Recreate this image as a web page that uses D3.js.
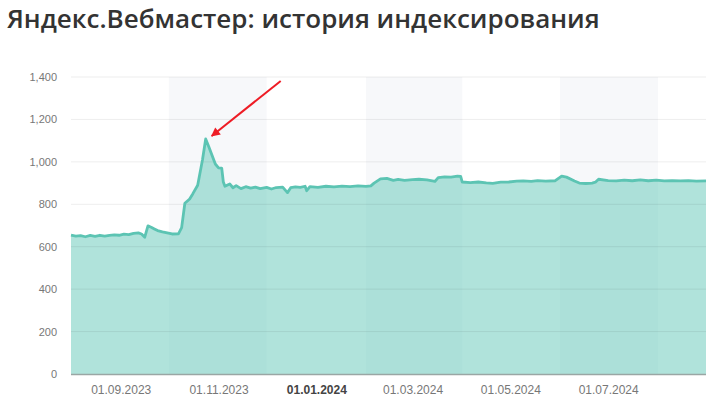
<!DOCTYPE html>
<html><head><meta charset="utf-8">
<script src="https://cdn.jsdelivr.net/npm/d3@7/dist/d3.min.js"></script>
<style>
html,body{margin:0;padding:0;background:#fff;}
svg{display:block;}
</style></head>
<body>
<svg id="c" width="712" height="402"></svg>
<script>
const title = "Яндекс.Вебмастер: история индексирования";
const dates = [
"2023-08-01","2023-08-04","2023-08-07","2023-08-10","2023-08-13","2023-08-16","2023-08-19","2023-08-22","2023-08-25","2023-08-28",
"2023-08-31","2023-09-03","2023-09-06","2023-09-09","2023-09-12","2023-09-14","2023-09-16","2023-09-18","2023-09-20","2023-09-22",
"2023-09-24","2023-09-27","2023-09-30","2023-10-03","2023-10-07","2023-10-09","2023-10-11","2023-10-14","2023-10-16","2023-10-19",
"2023-10-22","2023-10-24","2023-10-26","2023-10-28","2023-10-30","2023-11-01","2023-11-03","2023-11-04","2023-11-05","2023-11-08",
"2023-11-10","2023-11-12","2023-11-15","2023-11-18","2023-11-21","2023-11-24","2023-11-27","2023-12-01","2023-12-04","2023-12-07",
"2023-12-11","2023-12-14","2023-12-16","2023-12-19","2023-12-22","2023-12-25","2023-12-26","2023-12-28","2024-01-02","2024-01-07",
"2024-01-12","2024-01-17","2024-01-22","2024-01-27","2024-02-01","2024-02-04","2024-02-06","2024-02-10","2024-02-14","2024-02-18",
"2024-02-21","2024-02-25","2024-03-01","2024-03-05","2024-03-10","2024-03-15","2024-03-17","2024-03-21","2024-03-25","2024-03-29",
"2024-03-31","2024-04-01","2024-04-06","2024-04-11","2024-04-16","2024-04-20","2024-04-25","2024-04-30","2024-05-05","2024-05-09",
"2024-05-14","2024-05-18","2024-05-23","2024-05-29","2024-06-02","2024-06-05","2024-06-10","2024-06-13","2024-06-17","2024-06-21",
"2024-06-23","2024-06-25","2024-07-01","2024-07-06","2024-07-11","2024-07-16","2024-07-21","2024-07-26","2024-07-31","2024-08-05",
"2024-08-10","2024-08-15","2024-08-20","2024-08-25","2024-08-31"
];
const values = [
655,650,652,647,653,649,654,650,653,656,
654,659,657,663,665,660,645,698,692,684,
676,670,665,660,661,690,805,825,850,890,
1010,1108,1070,1030,990,972,970,905,885,896,
878,888,874,883,876,881,874,880,872,879,
881,855,878,882,880,885,864,883,880,885,
882,886,883,887,884,887,900,920,922,913,
917,913,916,918,915,908,926,929,928,933,
932,905,902,905,901,899,904,905,909,910,
908,912,909,911,933,928,910,900,898,900,
904,918,912,910,914,911,915,911,914,910,
912,910,912,909,910
];
const yTicks = [0,200,400,600,800,1000,1200,1400];
const xTickDates = ["2023-09-01","2023-11-01","2024-01-01","2024-03-01","2024-05-01","2024-07-01"];
const bandStarts = ["2023-10-01","2024-02-01","2024-06-01"];
const bandEnds = ["2023-12-01","2024-04-01","2024-08-01"];
const domainDates = ["2023-08-01","2024-08-31"];

const parse = d3.utcParse("%Y-%m-%d");
const fmt = d3.utcFormat("%d.%m.%Y");
const data = dates.map((d,i)=>({date:parse(d), value:values[i]}));

const svg = d3.select("#c");
const m = {left:71, right:6, top:77, bottom:28};
const W = 712, H = 402;
const x = d3.scaleUtc().domain(domainDates.map(parse)).range([m.left, W-m.right]);
const y = d3.scaleLinear().domain([0,1400]).range([H-m.bottom, m.top]);

svg.append("text").attr("x",7).attr("y",28)
  .attr("font-family","'Open Sans', sans-serif").attr("font-weight",600)
  .attr("font-size",26).attr("fill","#333").text(title);

// bands
svg.append("g").selectAll("rect").data(bandStarts).join("rect")
  .attr("x",(d)=>x(parse(d))).attr("width",(d,i)=>x(parse(bandEnds[i]))-x(parse(d)))
  .attr("y",y(1400)).attr("height",y(0)-y(1400)).attr("fill","#f7f8fa");

// area
const area = d3.area().x(d=>x(d.date)).y0(y(0)).y1(d=>y(d.value));
svg.append("path").datum(data).attr("d",area).attr("fill","#62c8b8").attr("fill-opacity",0.5);

// grid
svg.append("g").selectAll("line").data(yTicks.filter(t=>t>0)).join("line")
  .attr("x1",m.left).attr("x2",W-m.right).attr("y1",d=>y(d)).attr("y2",d=>y(d))
  .attr("stroke","#000").attr("stroke-opacity",0.07).attr("stroke-width",1);

// line
const line = d3.line().x(d=>x(d.date)).y(d=>y(d.value));
svg.append("path").datum(data).attr("d",line).attr("fill","none")
  .attr("stroke","#5cc4b3").attr("stroke-width",2.8).attr("stroke-linejoin","round");

// bottom axis line
svg.append("line").attr("x1",m.left).attr("x2",W-m.right).attr("y1",y(0)+0.5).attr("y2",y(0)+0.5)
  .attr("stroke","#9aa6a4").attr("stroke-width",1.5);

// y axis
const yAxis = d3.axisLeft(y).tickValues(yTicks).tickSize(0).tickPadding(14).tickFormat(d3.format(","));
const ga = svg.append("g").attr("transform",`translate(${m.left},0)`).call(yAxis);
ga.select(".domain").remove();
ga.selectAll("text").attr("font-family","'Liberation Sans', Arial, sans-serif").attr("font-size",11).attr("fill","#777");

// x axis
const xAxis = d3.axisBottom(x).tickValues(xTickDates.map(parse)).tickSize(0).tickPadding(11).tickFormat(fmt);
const gx = svg.append("g").attr("transform",`translate(0,${y(0)})`).call(xAxis);
gx.select(".domain").remove();
gx.selectAll("text").attr("font-family","'Liberation Sans', Arial, sans-serif").attr("font-size",12)
  .attr("fill",d=>d.getUTCMonth()===0?"#444":"#777").attr("font-weight",d=>d.getUTCMonth()===0?"bold":"normal");

// arrow annotation pointing at peak
const peak = data.reduce((a,b)=>b.value>a.value?b:a);
const px = x(peak.date), py = y(peak.value);
const tip = [px+6, py-3], tail = [px+75, py-58];
svg.append("defs").append("marker").attr("id","ah").attr("viewBox","0 0 10 10")
  .attr("refX",9).attr("refY",5).attr("markerWidth",10).attr("markerHeight",9)
  .attr("markerUnits","userSpaceOnUse").attr("orient","auto")
  .append("path").attr("d","M0,0L10,5L0,10z").attr("fill","#ee1c25");
svg.append("line").attr("x1",tail[0]).attr("y1",tail[1]).attr("x2",tip[0]).attr("y2",tip[1])
  .attr("stroke","#ee1c25").attr("stroke-width",2).attr("marker-end","url(#ah)");
</script>
</body></html>
